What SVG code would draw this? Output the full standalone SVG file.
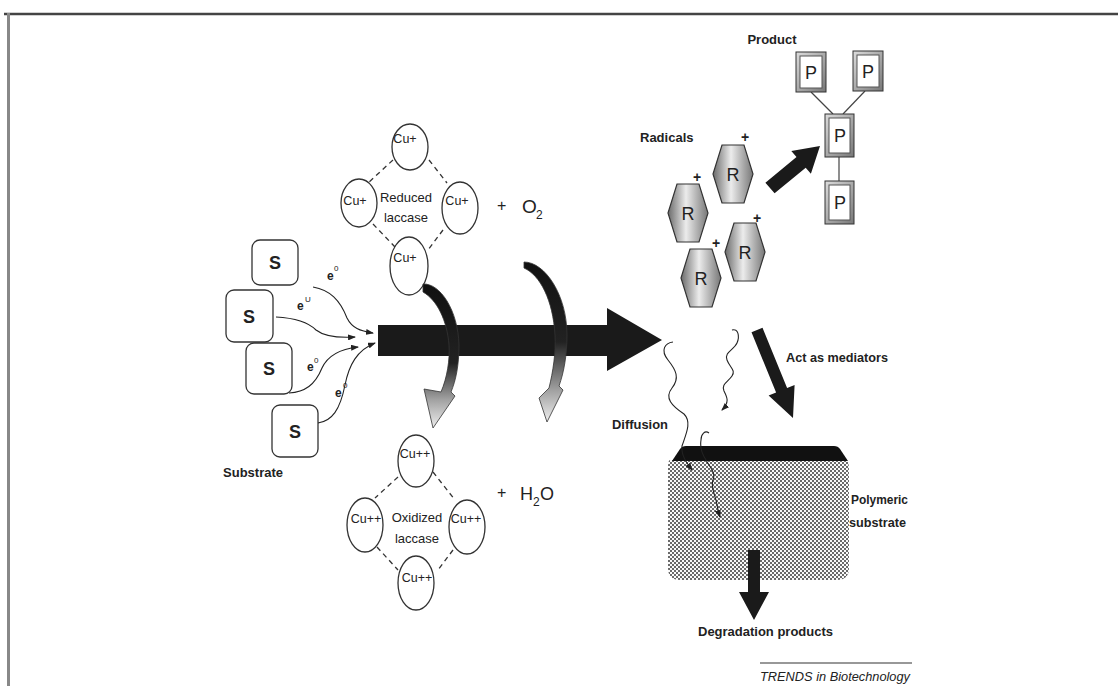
<svg xmlns="http://www.w3.org/2000/svg" width="1118" height="686" viewBox="0 0 1118 686">
<defs>
<style>
.t{font-family:"Liberation Sans",Arial,sans-serif;fill:#222;}
.lb{font-size:13px;font-weight:bold;}
.cu{font-size:12.5px;}
.big{font-size:18px;}
.dash{fill:none;stroke:#333;stroke-width:1.3;stroke-dasharray:5 4;}
.cir{fill:none;stroke:#333;stroke-width:1.3;}
.sbox{fill:#fff;stroke:#333;stroke-width:1.3;}
.wire{fill:none;stroke:#222;stroke-width:1.1;}
.hex{fill:url(#hexg);stroke:#333;stroke-width:1.2;}
.pout{fill:url(#pg);stroke:#333;stroke-width:1;}
.pin{fill:#fff;stroke:#555;stroke-width:1;}
.blk{fill:#1a1a1a;}
</style>
<linearGradient id="hexg" x1="0" y1="0" x2="1" y2="0">
<stop offset="0" stop-color="#6a6a6a"/>
<stop offset="0.45" stop-color="#ececec"/>
<stop offset="1" stop-color="#777"/>
</linearGradient>
<linearGradient id="pg" x1="0" y1="0" x2="1" y2="1">
<stop offset="0" stop-color="#ddd"/>
<stop offset="1" stop-color="#777"/>
</linearGradient>
<linearGradient id="cg1" gradientUnits="userSpaceOnUse" x1="0" y1="284" x2="0" y2="428">
<stop offset="0" stop-color="#111"/>
<stop offset="0.55" stop-color="#222"/>
<stop offset="0.8" stop-color="#a0a0a0"/>
<stop offset="1" stop-color="#eee"/>
</linearGradient>
<linearGradient id="cg2" gradientUnits="userSpaceOnUse" x1="0" y1="262" x2="0" y2="422">
<stop offset="0" stop-color="#111"/>
<stop offset="0.5" stop-color="#222"/>
<stop offset="0.8" stop-color="#a0a0a0"/>
<stop offset="1" stop-color="#eee"/>
</linearGradient>
<pattern id="chk" width="4" height="4" patternUnits="userSpaceOnUse">
<rect width="4" height="4" fill="#fafafa"/>
<rect width="2" height="2" fill="#6a6a6a"/>
<rect x="2" y="2" width="2" height="2" fill="#6a6a6a"/>
</pattern>
<marker id="ah" viewBox="0 0 8 6" refX="7" refY="3" markerWidth="8" markerHeight="6" markerUnits="userSpaceOnUse" orient="auto">
<path d="M0,0 L8,3 L0,6 Z" fill="#222"/>
</marker>
</defs>

<rect width="1118" height="686" fill="#fff"/>
<g id="frame">
<line x1="4" y1="14" x2="1118" y2="14" stroke="#444" stroke-width="2.5"/>
<line x1="8.5" y1="13" x2="8.5" y2="686" stroke="#888" stroke-width="3"/>
</g>

<g id="polymer">
<path d="M670,460 L846,460 Q849,460 849,470 L849,568 Q849,580 837,580 L680,580 Q668,580 668,568 L668,468 Q668,460 670,460 Z" fill="url(#chk)"/>
<path d="M672,461 L680,449 Q682,446 686,446 L834,446 Q838,446 840,449 L848,461 Z" fill="#111"/>
<text class="t lb" x="851" y="504" textLength="57" lengthAdjust="spacingAndGlyphs">Polymeric</text>
<text class="t lb" x="849" y="527" textLength="57" lengthAdjust="spacingAndGlyphs">substrate</text>
</g>

<g id="reduced-laccase">
<line class="dash" x1="393" y1="160" x2="368" y2="183"/>
<line class="dash" x1="429" y1="160" x2="447" y2="183"/>
<line class="dash" x1="373" y1="224" x2="395" y2="247"/>
<line class="dash" x1="443" y1="230" x2="428" y2="250"/>
<ellipse class="cir" cx="410" cy="147" rx="18" ry="23"/>
<ellipse class="cir" cx="359" cy="203" rx="18" ry="24"/>
<ellipse class="cir" cx="460" cy="208" rx="18" ry="26"/>
<ellipse class="cir" cx="409" cy="266" rx="19" ry="29"/>
<text class="t cu" x="405" y="143" text-anchor="middle">Cu+</text>
<text class="t cu" x="355" y="205" text-anchor="middle">Cu+</text>
<text class="t cu" x="457" y="205" text-anchor="middle">Cu+</text>
<text class="t cu" x="405" y="262" text-anchor="middle">Cu+</text>
<text class="t" x="406" y="202" font-size="13" text-anchor="middle">Reduced</text>
<text class="t" x="406" y="222" font-size="13" text-anchor="middle">laccase</text>
</g>

<g id="o2">
<text class="t" x="497" y="211" font-size="16" fill="#111">+</text>
<text class="t" x="522" y="213" font-size="19" fill="#111">O</text>
<text class="t" x="536" y="219" font-size="12" fill="#111">2</text>
</g>

<g id="oxidized-laccase">
<line class="dash" x1="398" y1="477" x2="375" y2="498"/>
<line class="dash" x1="433" y1="472" x2="455" y2="500"/>
<line class="dash" x1="377" y1="547" x2="398" y2="570"/>
<line class="dash" x1="453" y1="550" x2="438" y2="570"/>
<ellipse class="cir" cx="416" cy="461" rx="18" ry="26"/>
<ellipse class="cir" cx="365" cy="525" rx="18" ry="27"/>
<ellipse class="cir" cx="467" cy="527" rx="18" ry="27"/>
<ellipse class="cir" cx="416" cy="583" rx="18" ry="27"/>
<text class="t cu" x="415" y="458" text-anchor="middle">Cu++</text>
<text class="t cu" x="366" y="523" text-anchor="middle">Cu++</text>
<text class="t cu" x="466" y="523" text-anchor="middle">Cu++</text>
<text class="t cu" x="417" y="582" text-anchor="middle">Cu++</text>
<text class="t" x="417" y="522" font-size="13" text-anchor="middle">Oxidized</text>
<text class="t" x="417" y="543" font-size="13" text-anchor="middle">laccase</text>
</g>

<g id="h2o">
<text class="t" x="497" y="498" font-size="16" fill="#111">+</text>
<text class="t" x="520" y="500" font-size="18" fill="#111">H</text>
<text class="t" x="533" y="506" font-size="12" fill="#111">2</text>
<text class="t" x="540" y="500" font-size="18" fill="#111">O</text>
</g>

<g id="substrates">
<rect class="sbox" x="252" y="240" width="46" height="45" rx="8"/>
<rect class="sbox" x="226" y="290" width="47" height="52" rx="8"/>
<rect class="sbox" x="246" y="343" width="46" height="51" rx="8"/>
<rect class="sbox" x="272" y="405" width="46" height="52" rx="8"/>
<text class="t big" x="275" y="269" font-weight="bold" text-anchor="middle">S</text>
<text class="t big" x="249" y="323" font-weight="bold" text-anchor="middle">S</text>
<text class="t big" x="269" y="375" font-weight="bold" text-anchor="middle">S</text>
<text class="t big" x="295" y="438" font-weight="bold" text-anchor="middle">S</text>
<text class="t lb" x="253" y="477" text-anchor="middle">Substrate</text>
</g>

<g id="connectors">
<path class="wire" d="M313,287 C330,290 340,300 347,318 C352,328 360,331 373,333" marker-end="url(#ah)"/>
<path class="wire" d="M276,317 C295,318 308,322 316,330 C325,337 338,338 355,337" marker-end="url(#ah)"/>
<path class="wire" d="M289,393 C305,392 315,385 322,368 C328,355 340,349 358,347" marker-end="url(#ah)"/>
<path class="wire" d="M318,423 C332,421 340,410 345,385 C349,365 357,350 375,343" marker-end="url(#ah)"/>
<path class="blk" d="M378,325 L607,325 L607,308 L662,340 L607,371 L607,356 L378,356 Z"/>
<path d="M423,284 C440,283 458,310 459,345 C459,365 456,380 451,392 L455,396 L433,428 L424,389 L441,392 C447,378 450,360 449,345 C447,320 437,300 423,292 Z" fill="url(#cg1)" stroke="#333" stroke-width="0.8"/>
<path d="M524,262 C545,262 567,295 567,335 C567,355 564,372 559,386 L563,390 L547,422 L539,398 L549,388 C553,372 556,352 555,335 C553,300 540,275 524,268 Z" fill="url(#cg2)" stroke="#333" stroke-width="0.8"/>
<path class="blk" d="M765.4,182.7 L796.5,157.1 L791.3,151.1 L820,146 L810.9,173.7 L805.7,167.7 L774.6,193.3 Z"/>
<path class="blk" d="M751.5,332.3 L762.5,327.7 L787.1,387.9 L794.6,384.9 L793,418 L768.6,395.5 L776.1,392.5 Z"/>
<path class="blk" d="M748,550 L760,550 L760,592 L769,592 L754,620 L739,592 L748,592 Z"/>
<line x1="811" y1="92" x2="833" y2="114" stroke="#444" stroke-width="1.2"/>
<line x1="865" y1="91" x2="843" y2="114" stroke="#444" stroke-width="1.2"/>
<line x1="839" y1="157" x2="839" y2="181" stroke="#444" stroke-width="1.2"/>
<path class="wire" d="M673,342 C665,343 660,350 668,360 C676,370 680,378 672,388 C664,398 672,406 684,414 C692,422 686,434 682,446 C681,455 686,462 692,470" marker-end="url(#ah)"/>
<path class="wire" d="M732,330 C738,328 740,336 737,343 C734,350 724,352 727,360 C730,368 736,370 732,376 C728,382 721,384 724,391 C727,397 730,402 722,410" marker-end="url(#ah)"/>
<path class="wire" d="M709,433 C705,430 701,434 701,440 C700,446 702,454 706,460 C710,468 716,472 713,480 C710,488 716,496 717,505 C718,510 719,514 720,517" marker-end="url(#ah)"/>
</g>

<g id="radicals">
<text class="t lb" x="640" y="142">Radicals</text>
<polygon class="hex" points="722,145 744,145 753,174 744,203 722,203 713,174"/>
<polygon class="hex" points="677,184 699,184 708,213 699,242 677,242 668,213"/>
<polygon class="hex" points="734,223 756,223 765,252 756,281 734,281 725,252"/>
<polygon class="hex" points="690,249 712,249 721,278 712,307 690,307 681,278"/>
<text class="t big" x="733" y="181" text-anchor="middle">R</text>
<text class="t big" x="688" y="220" text-anchor="middle">R</text>
<text class="t big" x="745" y="259" text-anchor="middle">R</text>
<text class="t big" x="701" y="285" text-anchor="middle">R</text>
<text class="t" x="745" y="142" font-size="14" font-weight="bold" text-anchor="middle">+</text>
<text class="t" x="697" y="182" font-size="14" font-weight="bold" text-anchor="middle">+</text>
<text class="t" x="757" y="223" font-size="14" font-weight="bold" text-anchor="middle">+</text>
<text class="t" x="716" y="248" font-size="14" font-weight="bold" text-anchor="middle">+</text>
</g>

<g id="product">
<text class="t lb" x="772" y="44" text-anchor="middle">Product</text>
<rect class="pout" x="796" y="52" width="30" height="40"/>
<rect class="pin" x="800" y="56" width="22" height="32"/>
<rect class="pout" x="853" y="51" width="30" height="40"/>
<rect class="pin" x="857" y="55" width="22" height="32"/>
<rect class="pout" x="825" y="114" width="29" height="43"/>
<rect class="pin" x="829" y="118" width="21" height="35"/>
<rect class="pout" x="825" y="181" width="29" height="43"/>
<rect class="pin" x="829" y="185" width="21" height="35"/>
<text class="t big" x="811" y="79" text-anchor="middle">P</text>
<text class="t big" x="868" y="78" text-anchor="middle">P</text>
<text class="t big" x="840" y="142" text-anchor="middle">P</text>
<text class="t big" x="840" y="209" text-anchor="middle">P</text>
</g>

<g id="mediators">
<text class="t lb" x="786" y="362" textLength="102" lengthAdjust="spacingAndGlyphs">Act as mediators</text>
<text class="t lb" x="612" y="429" textLength="56" lengthAdjust="spacingAndGlyphs">Diffusion</text>
</g>

<g id="degradation">
<text class="t lb" x="698" y="636" textLength="135" lengthAdjust="spacingAndGlyphs">Degradation products</text>
</g>

<g id="credit">
<line x1="760" y1="663" x2="912" y2="663" stroke="#333" stroke-width="1.2"/>
<text class="t" x="760" y="681" font-size="13" font-style="italic" fill="#333" textLength="150" lengthAdjust="spacingAndGlyphs">TRENDS in Biotechnology</text>
</g>

<g id="electrons">
<text class="t" x="327" y="280" font-size="12" font-weight="bold">e</text>
<text class="t" x="334" y="271" font-size="8">0</text>
<text class="t" x="297" y="310" font-size="12" font-weight="bold">e</text>
<text class="t" x="305" y="302" font-size="8">U</text>
<text class="t" x="307" y="371" font-size="12" font-weight="bold">e</text>
<text class="t" x="314" y="363" font-size="8">0</text>
<text class="t" x="335" y="397" font-size="12" font-weight="bold">e</text>
<text class="t" x="343" y="388" font-size="8">0</text>
</g>
</svg>
